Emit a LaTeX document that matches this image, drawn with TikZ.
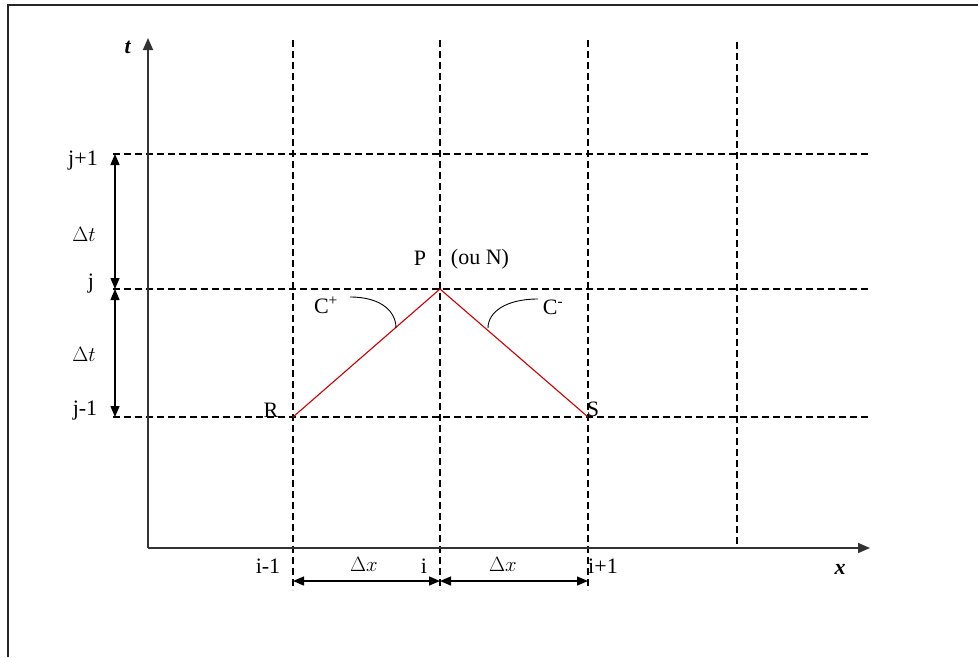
\documentclass[tikz,border=0pt]{standalone}
\usepackage{fontspec}
\setmainfont{Liberation Serif}
\usepackage{amsmath}
\usetikzlibrary{arrows.meta}

\tikzset{
  grid line/.style={black,line width=1.3pt,dash pattern=on 7pt off 4pt},
  axis line/.style={black!80,line width=1.6pt,-{Triangle[length=12pt,width=10pt]}},
  dim line/.style={black,line width=1.3pt,{Triangle[length=11pt,width=9pt]}-{Triangle[length=11pt,width=9pt]}},
}

\begin{document}
\begin{tikzpicture}[x=1pt,y=-1pt,font=\fontsize{22}{25}\selectfont]
\useasboundingbox (0,0) rectangle (978,657);
% frame
\draw[line width=2.2pt,black!85] (8,657) -- (8,5) -- (978,5);

% grid points
\coordinate (O) at (148,548);
\coordinate (tend) at (148,38);
\coordinate (xend) at (870,548);
\coordinate (R) at (293,417);
\coordinate (P) at (440,289);
\coordinate (S) at (588,417);

% vertical dashed lines
\draw[grid line] (293,40) -- (293,590);
\draw[grid line] (440,40) -- (440,590);
\draw[grid line] (588,40) -- (588,590);
\draw[grid line] (737,42) -- (737,548);

% horizontal dashed lines
\draw[grid line] (113,154) -- (870,154);
\draw[grid line] (113,289) -- (870,289);
\draw[grid line] (113,417) -- (870,417);

% axes
\draw[axis line] (O) -- (tend);
\draw[axis line] (O) -- (xend);
\node (tlab) at (128,47) {\textit{\textbf{t}}};
\node (xlab) at (840,569) {\textit{\textbf{x}}};

% time labels
\node (jp) at (83,161) {j+1};
\node (j0) at (91,284) {j};
\node (jm) at (85,411) {j-1};
\coordinate (ta) at (115,154);
\coordinate (tb) at (115,289);
\coordinate (tc) at (115,417);
\draw[dim line] (ta) -- (tb);
\draw[dim line] (tb) -- (tc);
\node (dt1) at (84,234) {$\Delta t$};
\node (dt2) at (84,354) {$\Delta t$};

% space labels
\node (im) at (268,566) {i-1};
\node (i0) at (424,566) {i};
\node (ip) at (603,566) {i+1};
\coordinate (xa) at (293,581);
\coordinate (xb) at (440,581);
\coordinate (xc) at (588,581);
\draw[dim line] (xa) -- (xb);
\draw[dim line] (xb) -- (xc);
\node (dx1) at (364,564) {$\Delta x$};
\node (dx2) at (503,564) {$\Delta x$};

% characteristics
\draw[red!80!black,line width=1.1pt] (R) -- (P) -- (S);
\node (Rlab) at (271,410) {R};
\node (Slab) at (593,409) {S};
\node (Plab) at (420,258) {P};
\node (Nlab) at (480,259) {(ou N)};
\node (Cp) at (326,305) {C\textsuperscript{+}};
\node (Cm) at (553,307) {C\textsuperscript{-}};
\draw[black,line width=0.9pt] (350,297) .. controls (382,297) and (396,312) .. (396,328);
\draw[black,line width=0.9pt] (538,299) .. controls (506,299) and (488,312) .. (488,328);
\end{tikzpicture}
\end{document}
